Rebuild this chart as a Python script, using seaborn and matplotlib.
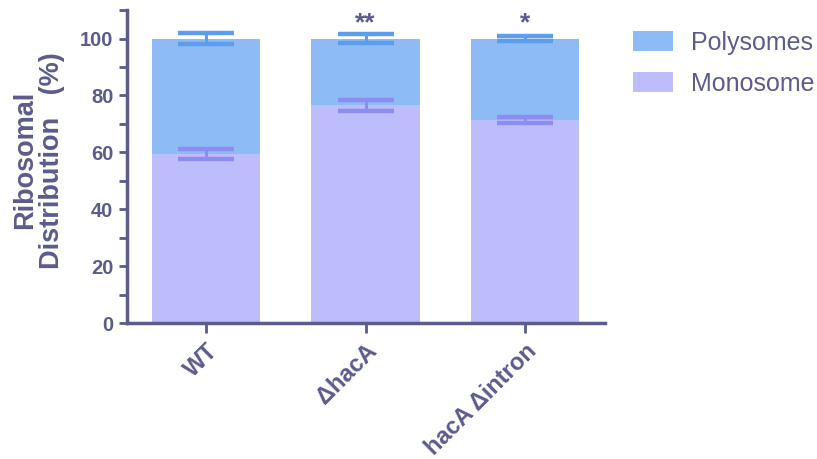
import matplotlib
matplotlib.use("Agg")
import matplotlib.pyplot as plt
import seaborn as sns
import pandas as pd
from matplotlib.patches import Patch
from matplotlib.ticker import MultipleLocator

# Strains and ribosome fractions (%)
strains = ["WT", "\u0394hacA", "hacA \u0394intron"]
monosome = [59.5, 76.5, 71.5]
monosome_sd = [1.8, 1.8, 1.0]
polysomes = [40.5, 23.5, 28.5]
polysomes_sd = [2.0, 1.7, 1.0]
stars = ["", "**", "*"]

series_labels = ["Polysomes", "Monosome"]
poly_color = "#8dbbf5"
mono_color = "#bdbdfc"
poly_err = "#5c9df0"
mono_err = "#8d8df0"
ink = "#5b5b8c"

sns.set_theme(style="white")
plt.rcParams["font.family"] = ["Liberation Sans", "DejaVu Sans"]

df = pd.DataFrame({
    "strain": strains,
    "monosome": monosome,
    "total": [m + p for m, p in zip(monosome, polysomes)],
})

fig = plt.figure(figsize=(8.17, 4.59), dpi=100)
ax = fig.add_axes([0.155, 0.296, 0.585, 0.682])

# stacked bars: full height (polysomes on top) then monosome part
sns.barplot(data=df, x="strain", y="total", color=poly_color, saturation=1,
            width=0.68, errorbar=None, ax=ax, zorder=1)
sns.barplot(data=df, x="strain", y="monosome", color=mono_color, saturation=1,
            width=0.68, errorbar=None, ax=ax, zorder=2)
for p in ax.patches:
    p.set_edgecolor("none")

xs = range(len(strains))
ax.errorbar(xs, df["total"], yerr=polysomes_sd, fmt="none", ecolor=poly_err,
            elinewidth=2.2, capsize=20, capthick=3.2, zorder=5)
ax.errorbar(xs, df["monosome"], yerr=monosome_sd, fmt="none", ecolor=mono_err,
            elinewidth=2.2, capsize=20, capthick=3.2, zorder=5)

for x, s in zip(xs, stars):
    if s:
        ax.text(x, 109.5, s, ha="center", va="top", fontsize=19,
                fontweight="bold", color=ink)

ax.set_xlim(-0.5, 2.5)
ax.set_ylim(0, 110)
ax.set_yticks([0, 20, 40, 60, 80, 100])
ax.yaxis.set_minor_locator(MultipleLocator(10))

for side in ["top", "right"]:
    ax.spines[side].set_visible(False)
for side in ["left", "bottom"]:
    ax.spines[side].set_color(ink)
    ax.spines[side].set_linewidth(2.5)

ax.tick_params(axis="y", which="both", direction="out", length=6, width=2,
               color=ink, left=True, labelsize=14.5, labelcolor=ink)
ax.tick_params(axis="x", direction="out", length=7, width=2, color=ink,
               bottom=True, labelsize=17, labelcolor=ink, pad=5)
for lab in ax.get_yticklabels():
    lab.set_fontweight("bold")
ax.set_xticks(list(xs))
ax.set_xticklabels(strains, rotation=45, ha="right", rotation_mode="anchor",
                   fontweight="bold")
ax.set_xlabel("")
ax.set_ylabel("Ribosomal\nDistribution   (%)", fontsize=19.5, fontweight="bold",
              color=ink, linespacing=1.0)
ax.yaxis.set_label_coords(-0.13, 0.52)

handles = [Patch(facecolor=poly_color, edgecolor="none"),
           Patch(facecolor=mono_color, edgecolor="none")]
fig.legend(handles, series_labels, loc="upper left",
           bbox_to_anchor=(0.775, 0.933), frameon=False, fontsize=18,
           borderpad=0, borderaxespad=0,
           handlelength=1.6, handleheight=0.85, labelspacing=0.68,
           labelcolor=ink, handletextpad=0.7)

fig.savefig("out.png", dpi=100)
